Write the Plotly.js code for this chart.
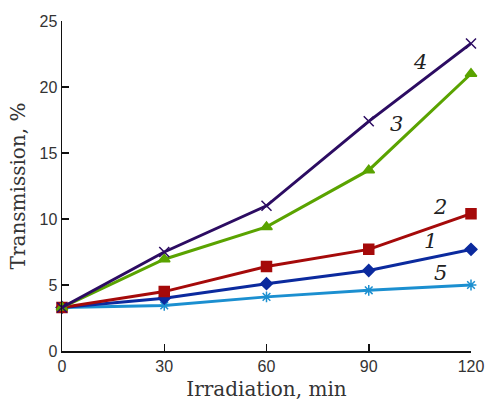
<!DOCTYPE html>
<html>
<head>
<meta charset="utf-8">
<script src="https://cdn.plot.ly/plotly-3.0.1.min.js"></script>
<style>html,body{margin:0;padding:0;background:#fff;}#chart{width:488px;height:401px;}</style>
</head>
<body>
<div id="chart"></div>
<script>
const irradiation = [0, 30, 60, 90, 120];
const curve1 = [3.3, 4.0, 5.1, 6.1, 7.7];
const curve2 = [3.3, 4.5, 6.4, 7.7, 10.4];
const curve3 = [3.3, 6.95, 9.4, 13.7, 21.0];
const curve4 = [3.3, 7.5, 11.0, 17.4, 23.3];
const curve5 = [3.3, 3.45, 4.1, 4.6, 5.0];
const curveLabels = ["1", "2", "3", "4", "5"];
const labelX = [108, 111, 98, 105, 111];
const labelY = [8.3, 10.9, 17.2, 21.9, 5.9];
const xTicks = [0, 30, 60, 90, 120];
const yTicks = [0, 5, 10, 15, 20, 25];

const series = [
  {y: curve5, color: '#1b8fd0', symbol: 'asterisk-open', size: 9},
  {y: curve1, color: '#0b2a9e', symbol: 'diamond', size: 9},
  {y: curve2, color: '#a50a0a', symbol: 'square', size: 10},
  {y: curve3, color: '#5aa300', symbol: 'triangle-up', size: 10},
  {y: curve4, color: '#2c0c62', symbol: 'x-thin-open', size: 10}
];

const traces = series.map(s => ({
  x: irradiation, y: s.y, type: 'scatter', mode: 'lines+markers',
  line: {color: s.color, width: 3},
  marker: {color: s.color, symbol: s.symbol, size: s.size, line: {color: s.color, width: 1.5}},
  showlegend: false, cliponaxis: false
}));

const annotations = curveLabels.map((t, i) => ({
  x: labelX[i], y: labelY[i], xref: 'x', yref: 'y', text: t, showarrow: false,
  font: {family: 'DejaVu Serif', size: 21, color: '#222', style: 'italic'}
}));

const layout = {
  width: 488, height: 401,
  margin: {l: 62, r: 17, t: 21, b: 50},
  paper_bgcolor: '#fff', plot_bgcolor: '#fff',
  showlegend: false,
  annotations: annotations,
  xaxis: {
    range: [0, 120], tickvals: xTicks, ticktext: xTicks.map(String),
    showgrid: false, zeroline: false, showline: true, linecolor: '#111', linewidth: 1.5,
    ticks: 'inside', ticklen: 7, tickcolor: '#111', tickwidth: 1.5,
    tickfont: {family: 'Liberation Sans', size: 16, color: '#333'},
    title: {text: 'Irradiation, min', font: {family: 'DejaVu Serif', size: 20, color: '#333'}, standoff: 14}
  },
  yaxis: {
    range: [0, 25], tickvals: yTicks, ticktext: yTicks.map(String),
    showgrid: false, zeroline: false, showline: true, linecolor: '#111', linewidth: 1.5,
    ticks: 'inside', ticklen: 7, tickcolor: '#111', tickwidth: 1.5,
    tickfont: {family: 'Liberation Sans', size: 16, color: '#333'},
    title: {text: 'Transmission, %', font: {family: 'DejaVu Serif', size: 20, color: '#333'}, standoff: 8}
  }
};

Plotly.newPlot('chart', traces, layout, {staticPlot: true, displayModeBar: false});
</script>
</body>
</html>
